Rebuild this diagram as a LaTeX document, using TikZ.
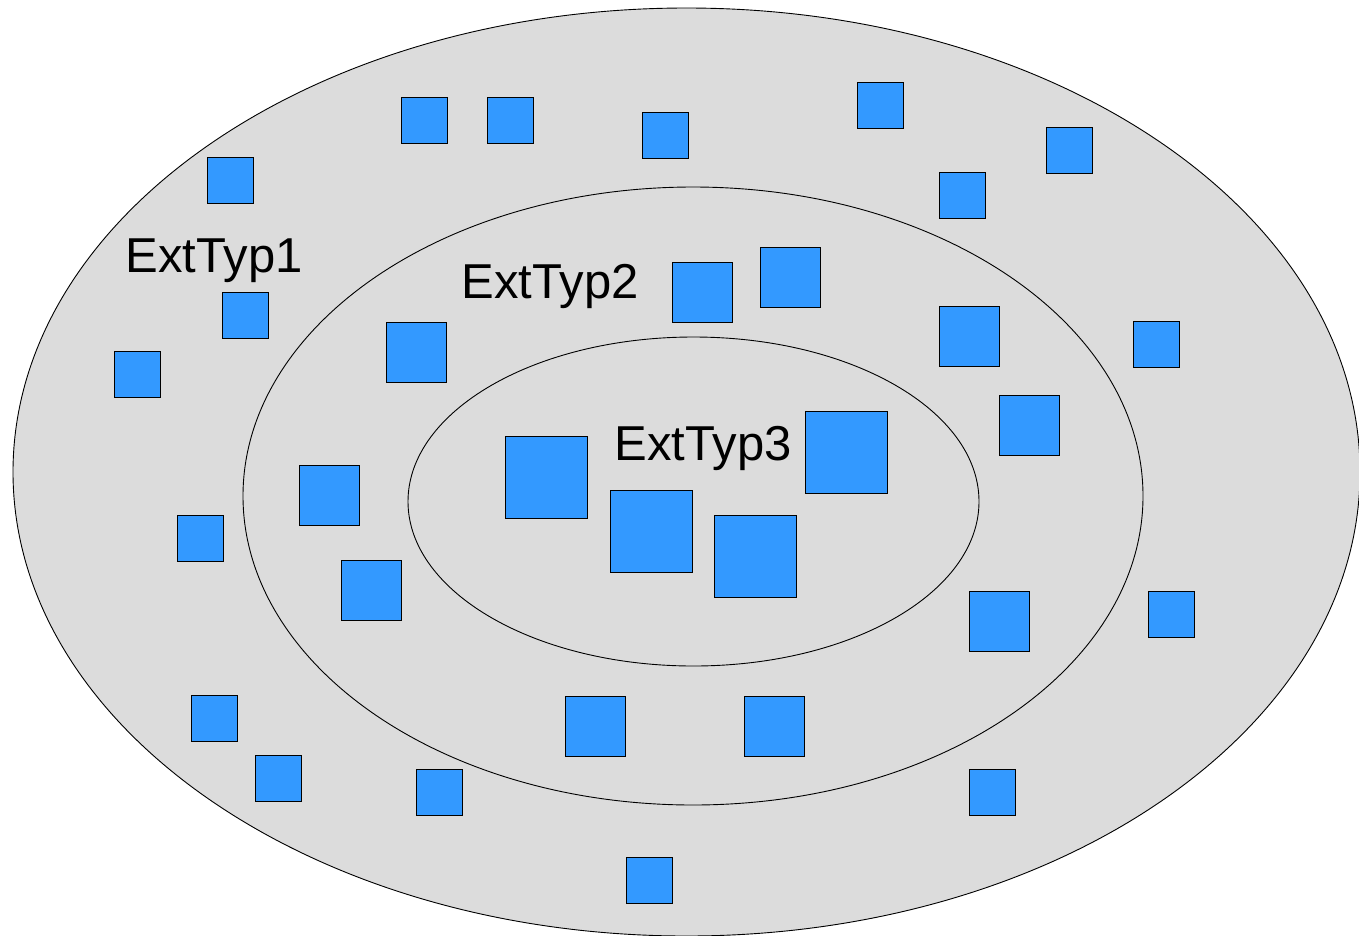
\documentclass[tikz,border=0pt]{standalone}
\usepackage{fontspec}
\setmainfont{Liberation Sans}
\definecolor{bgray}{HTML}{DCDCDC}
\definecolor{sqblue}{HTML}{3399FF}
\begin{document}
\begin{tikzpicture}[x=1pt,y=-1pt,
  sq/.style={fill=sqblue,draw=black,line width=0.9pt},
  ring/.style={fill=bgray,draw=black,line width=0.9pt},
  lbl/.style={font=\fontsize{49}{58}\selectfont,anchor=base,inner sep=0pt}]
\useasboundingbox (0,0) rectangle (1359,935);
\clip (0,0) rectangle (1359,935);
\fill[white] (0,0) rectangle (1359,935);
\draw[ring] (686.5,472) ellipse [x radius=673.5pt, y radius=464pt];
\draw[ring] (693,496) ellipse [x radius=450pt, y radius=309pt];
\draw[ring] (693.5,501.5) ellipse [x radius=285.5pt, y radius=164.5pt];
% small squares
\foreach \x/\y in {401/97,487/97,642/112,857/82,1046/127,939/172,207/157,222/292,114/351,1133/321,177/515,1148/591,191/695,255/755,416/769,969/769,626/857}
  \draw[sq] (\x,\y) rectangle ++(46,46);
% medium squares
\foreach \x/\y in {672/262,760/247,386/322,939/306,999/395,299/465,341/560,969/591,565/696,744/696}
  \draw[sq] (\x,\y) rectangle ++(60,60);
% large squares
\foreach \x/\y in {505/436,805/411,610/490,714/515}
  \draw[sq] (\x,\y) rectangle ++(82,82);
\node[lbl] (t1) at (214,272) {ExtTyp1};
\node[lbl] (t2) at (550,298) {ExtTyp2};
\node[lbl] (t3) at (703,460) {ExtTyp3};
\end{tikzpicture}
\end{document}
